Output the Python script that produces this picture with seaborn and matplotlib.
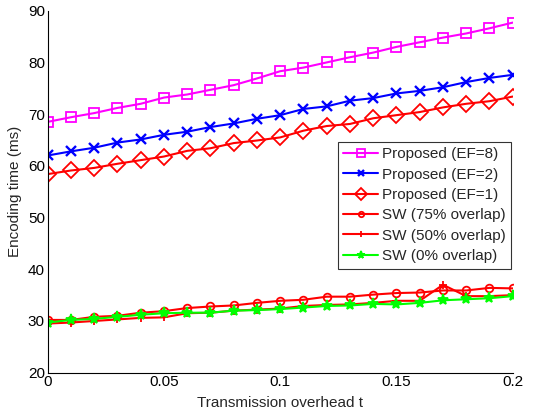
import matplotlib
matplotlib.use("Agg")
import matplotlib.pyplot as plt
import numpy as np
import pandas as pd
import seaborn as sns

# Transmission overhead values
overhead = [0.00, 0.01, 0.02, 0.03, 0.04, 0.05, 0.06, 0.07, 0.08, 0.09, 0.10,
            0.11, 0.12, 0.13, 0.14, 0.15, 0.16, 0.17, 0.18, 0.19, 0.20]

# Encoding times (ms)
proposed_ef8 = [68.5, 69.4, 70.2, 71.2, 72.0, 73.2, 73.8, 74.7, 75.6, 76.9, 78.3,
                79.0, 80.0, 81.0, 81.9, 83.0, 83.9, 84.8, 85.6, 86.6, 87.7]
proposed_ef2 = [62.0, 62.8, 63.5, 64.5, 65.1, 66.0, 66.6, 67.5, 68.2, 69.1, 69.8,
                71.0, 71.5, 72.6, 73.1, 74.0, 74.5, 75.2, 76.2, 77.0, 77.6]
proposed_ef1 = [58.4, 59.1, 59.6, 60.4, 61.1, 61.8, 62.9, 63.4, 64.4, 64.9, 65.5,
                66.8, 67.7, 68.1, 69.2, 69.8, 70.4, 71.3, 72.0, 72.5, 73.4]
sw_75 = [30.2, 30.2, 30.8, 31.0, 31.6, 31.9, 32.5, 32.8, 33.0, 33.5, 33.9,
         34.1, 34.7, 34.7, 35.1, 35.4, 35.5, 35.9, 35.9, 36.4, 36.3]
sw_50 = [29.5, 29.7, 30.0, 30.3, 30.6, 30.7, 31.5, 31.6, 32.0, 32.2, 32.4,
         32.9, 33.1, 33.2, 33.5, 33.9, 33.9, 37.0, 34.8, 34.8, 35.0]
sw_0 = [29.7, 30.2, 30.4, 30.8, 31.2, 31.5, 31.6, 31.6, 32.0, 32.1, 32.3,
        32.6, 32.9, 33.0, 33.3, 33.2, 33.5, 34.0, 34.2, 34.4, 34.8]

labels = ["Proposed (EF=8)", "Proposed (EF=2)", "Proposed (EF=1)",
          "SW (75% overlap)", "SW (50% overlap)", "SW (0% overlap)"]
series = [proposed_ef8, proposed_ef2, proposed_ef1, sw_75, sw_50, sw_0]
colors = ["#ff00ff", "#0000ff", "#ff0000", "#ff0000", "#ff0000", "#00ff00"]
markers = ["s", "x", "D", "o", "+", "*"]

sns.set_style("white")
plt.rcParams["font.family"] = ["Liberation Sans", "DejaVu Sans"]

fig = plt.figure(figsize=(5.33, 4.18), dpi=100)
ax = fig.add_axes([0.0895, 0.1084, 0.8725, 0.866])

# per-series marker appearance
marker_look = {
    "s": dict(markersize=7.5, markerfacecolor="none", markeredgewidth=1.3),
    "x": dict(markersize=7, markeredgewidth=1.7),
    "D": dict(markersize=8.5, markerfacecolor="none", markeredgewidth=1.3),
    "o": dict(markersize=5.5, markerfacecolor="none", markeredgewidth=1.3),
    "+": dict(markersize=6, markeredgewidth=1.3),
    "*": dict(markersize=8, markeredgewidth=1.3),
}

lines = []
for name, vals, col, mk in zip(labels, series, colors, markers):
    n_before = len(ax.get_lines())
    sns.lineplot(x=overhead, y=vals, color=col, linewidth=1.5, ax=ax,
                 legend=False, errorbar=None)
    line = ax.get_lines()[n_before]
    look = marker_look[mk]
    line.set_label(name)
    line.set_linestyle("-")
    line.set_marker(mk)
    line.set_markeredgecolor(col)
    line.set_markersize(look["markersize"])
    line.set_markeredgewidth(look["markeredgewidth"])
    line.set_markerfacecolor(look.get("markerfacecolor", col))
    lines.append(line)

ax.set_xlim(0, 0.2)
ax.set_ylim(20, 90)
ax.set_xticks([0, 0.05, 0.1, 0.15, 0.2])
ax.set_xticklabels(["0", "0.05", "0.1", "0.15", "0.2"])
ax.set_yticks([20, 30, 40, 50, 60, 70, 80, 90])
ax.tick_params(direction="in", length=4, width=0.8, labelsize=11,
               colors="black", pad=2)
ax.tick_params(axis="x", pad=2)
ax.set_xlabel("Transmission overhead t", fontsize=11, labelpad=5)
ax.set_ylabel("Encoding time (ms)", fontsize=11, labelpad=4)

for side in ("top", "right"):
    ax.spines[side].set_visible(False)
for side in ("left", "bottom"):
    ax.spines[side].set_color("black")
    ax.spines[side].set_linewidth(0.8)

leg = ax.legend(handles=lines, labels=labels, loc="upper left",
                bbox_to_anchor=(0.624, 0.638),
                fontsize=11, frameon=True, fancybox=False, handlelength=2.3,
                handletextpad=0.25, borderpad=0.35, labelspacing=0.42,
                borderaxespad=0)
leg.get_frame().set_edgecolor("black")
leg.get_frame().set_linewidth(0.8)
for h in leg.legend_handles:
    h.set_markersize(h.get_markersize() * 0.7)

fig.savefig("out.png", dpi=100)
